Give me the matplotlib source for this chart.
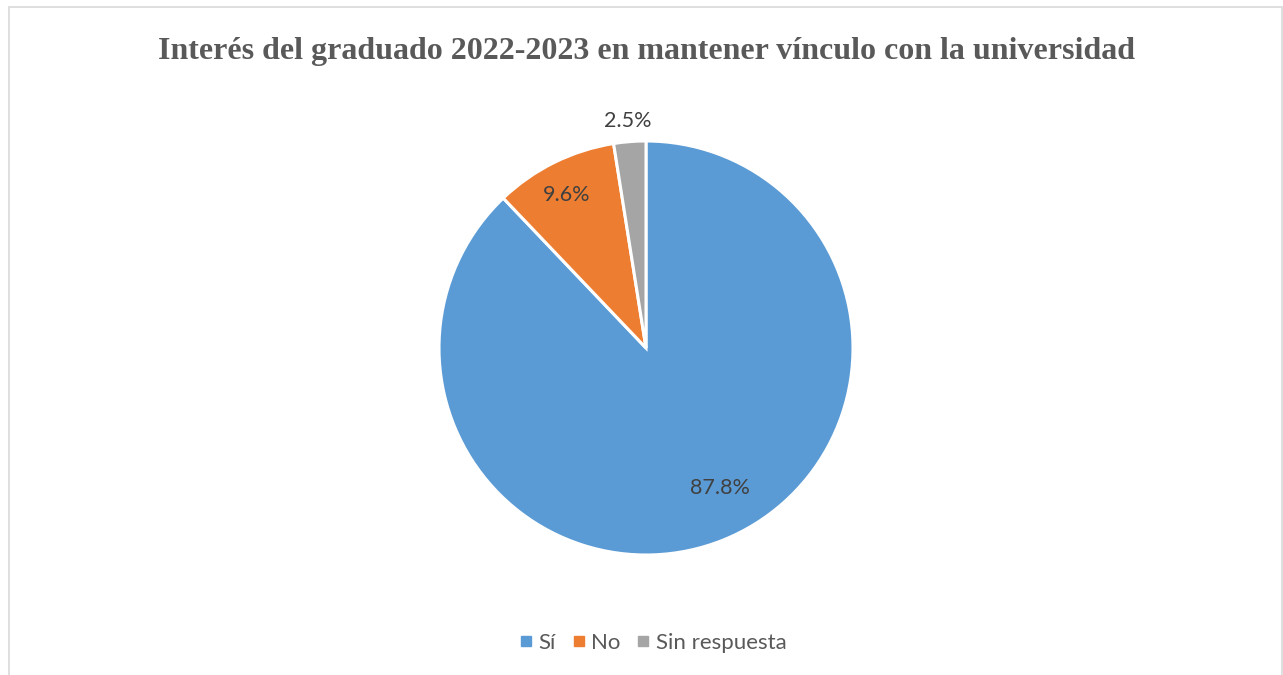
import matplotlib.pyplot as plt
from matplotlib.patches import Rectangle
from matplotlib.lines import Line2D

categorias = ["Sí", "No", "Sin respuesta"]
porcentajes = [87.8, 9.6, 2.5]
colores = ["#5B9BD5", "#ED7D31", "#A5A5A5"]
etiquetas = ["87.8%", "9.6%", "2.5%"]

fig = plt.figure(figsize=(12.83, 6.75), dpi=100)
W, H = 1283, 675

# borde del gráfico
fig.add_artist(Rectangle((8.5 / W, -0.05), (1282 - 8.5) / W, 1.05 - 6.5 / H,
                         transform=fig.transFigure, fill=False,
                         edgecolor="#D9D9D9", linewidth=1.2))

fig.text(646 / W, 1 - 52 / H,
         "Interés del graduado 2022-2023 en mantener vínculo con la universidad",
         ha="center", va="center", fontsize=23, fontweight="bold",
         family="Liberation Serif", color="#595959")

r = 207
cx, cy = 646, 348
ax = fig.add_axes([(cx - r) / W, (H - cy - r) / H, 2 * r / W, 2 * r / H])
wedges, textos = ax.pie(porcentajes, colors=colores, startangle=90,
                        counterclock=False,
                        wedgeprops=dict(edgecolor="white", linewidth=2.2))
ax.set_xlim(-1, 1)
ax.set_ylim(-1, 1)
ax.set_aspect("equal")
ax.axis("off")

# posiciones de las etiquetas (relativas al radio)
pos_etiquetas = [(0.357, -0.676), (-0.382, 0.739), (-0.087, 1.097)]
for txt, (x, y) in zip(etiquetas, pos_etiquetas):
    ax.text(x, y, txt, ha="center", va="center", fontsize=15.5,
            family="Lato", color="#404040")

handles = [Line2D([], [], marker="s", linestyle="none", markersize=7,
                  markerfacecolor=c, markeredgecolor=c) for c in colores]
fig.legend(handles, categorias, loc="center", bbox_to_anchor=(651 / W, 1 - 643 / H),
           ncol=3, frameon=False, prop={"family": "Lato", "size": 16},
           labelcolor="#595959", handletextpad=0.1, columnspacing=0.6,
           handlelength=0.9)

fig.savefig("out.png", dpi=100)
